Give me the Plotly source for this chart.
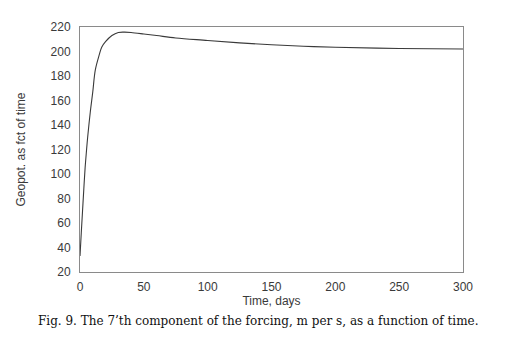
import plotly.graph_objects as go

days = [0, 1, 2, 3, 4, 5, 6, 8, 10, 12, 15, 17, 20, 25, 30, 35, 40, 50, 60, 75, 100, 125, 150, 175, 200, 250, 300]
geopot = [33, 52, 70, 88, 105, 118, 130, 150, 167, 185, 197, 203.5, 208, 213, 215.5, 215.8, 215.5, 214.3, 213, 211, 209, 207, 205.5, 204.3, 203.5, 202.5, 202]

x_ticks = [0, 50, 100, 150, 200, 250, 300]
y_ticks = [20, 40, 60, 80, 100, 120, 140, 160, 180, 200, 220]

caption = "Fig. 9. The 7\u2019th component of the forcing, m per s, as a function of time."

fig = go.Figure()
fig.add_trace(go.Scatter(x=days, y=geopot, mode="lines", line=dict(color="#3a3a3a", width=1.1, shape="spline"), showlegend=False))

axis_font = dict(family="Liberation Sans, Arial, sans-serif", size=12, color="#3a3a3a")
fig.update_layout(
    width=509, height=336,
    margin=dict(l=70, r=54, t=13, b=72),
    paper_bgcolor="white", plot_bgcolor="white",
    xaxis=dict(range=[0, 300], tickvals=x_ticks, showgrid=False, zeroline=False,
               showline=True, linecolor="#8a8a8a", linewidth=1, mirror=True, ticks="",
               tickfont=axis_font, ticklabelstandoff=4,
               title=dict(text="Time, days", font=axis_font, standoff=1)),
    yaxis=dict(range=[20, 220], tickvals=y_ticks, showgrid=False, zeroline=False,
               showline=True, linecolor="#8a8a8a", linewidth=1, mirror=True, ticks="",
               tickfont=axis_font, ticklabelstandoff=6,
               title=dict(text="Geopot. as fct of time", font=axis_font, standoff=22)),
    annotations=[dict(text=caption, xref="paper", yref="paper", x=-0.115, y=-0.163,
                      xanchor="left", yanchor="top", showarrow=False,
                      font=dict(family="DejaVu Serif, Liberation Serif, serif", size=12, color="#111111"))],
)

fig.write_html("out.html")
